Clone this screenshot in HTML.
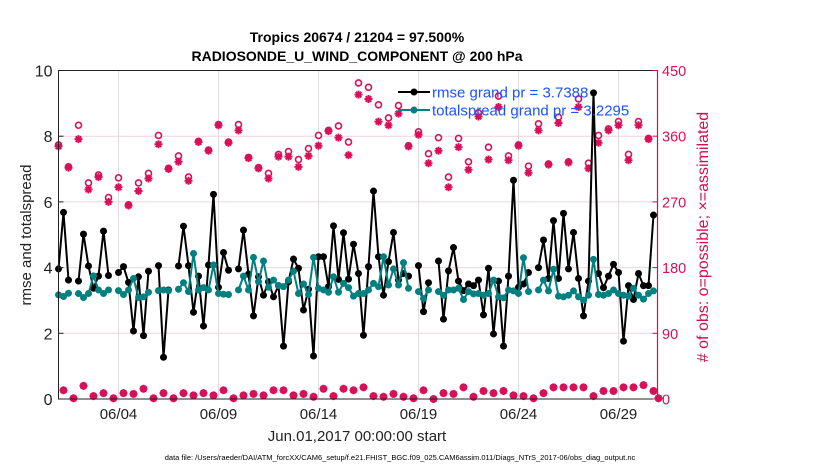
<!DOCTYPE html>
<html><head><meta charset="utf-8"><style>
html,body{margin:0;padding:0;background:#fff;}
svg{display:block;font-family:"Liberation Sans",Arial,sans-serif;}
</style></head><body>
<svg id="chart" width="830" height="470" viewBox="0 0 830 470" xmlns="http://www.w3.org/2000/svg">
<g id="grid"></g>
<g id="obs"></g>
<g id="lines"></g>
<rect x="58.5" y="70.5" width="599" height="328.5" fill="none" stroke="#222" stroke-width="1"/>
<line x1="657.5" y1="70.5" x2="657.5" y2="399" stroke="#d0104f" stroke-width="1.2"/>
<g id="axes"></g>
<text x="357" y="42" text-anchor="middle" font-size="14" font-weight="bold" fill="#000">Tropics 20674 / 21204 = 97.500%</text>
<text x="357" y="61" text-anchor="middle" font-size="14" font-weight="bold" fill="#000">RADIOSONDE_U_WIND_COMPONENT @ 200 hPa</text>
<text transform="translate(31,235) rotate(-90)" text-anchor="middle" font-size="15" fill="#222">rmse and totalspread</text>
<text transform="translate(708,237) rotate(-90)" text-anchor="middle" font-size="16" fill="#d0104f"># of obs: o=possible; ×=assimilated</text>
<text x="357" y="441" text-anchor="middle" font-size="15" fill="#222">Jun.01,2017 00:00:00 start</text>
<text x="400" y="460" text-anchor="middle" font-size="7.5" fill="#000">data file: /Users/raeder/DAI/ATM_forcXX/CAM6_setup/f.e21.FHIST_BGC.f09_025.CAM6assim.011/Diags_NTrS_2017-06/obs_diag_output.nc</text>
<g>
<line x1="398" y1="92" x2="430" y2="92" stroke="#000" stroke-width="2"/>
<circle cx="414" cy="92" r="3.5" fill="#000"/>
<text x="432" y="97.5" font-size="15" fill="#1a55f5">rmse grand pr = 3.7388</text>
<line x1="398" y1="110" x2="430" y2="110" stroke="#008080" stroke-width="2"/>
<circle cx="414" cy="110" r="3.5" fill="#008080"/>
<text x="432" y="115.5" font-size="15" fill="#1a55f5">totalspread grand pr = 3.2295</text>
</g>
</svg>
<script>
const rmse=[3.96,5.68,3.62,null,3.59,5.02,4.05,3.37,3.74,5.11,3.76,null,3.85,4.03,3.55,2.07,3.72,1.93,3.89,null,4.06,1.27,3.32,null,4.05,5.26,4.06,2.64,3.74,2.22,4.08,6.23,3.4,4.46,3.92,null,3.96,5.14,3.8,2.53,3.72,3.16,3.57,3.11,3.45,1.61,3.57,4.26,3.98,2.71,3.34,1.31,4.33,4.33,3.42,5.27,3.64,5.06,3.65,4.71,3.82,1.94,4.03,6.33,4.33,3.16,4.18,5.07,3.62,3.82,3.74,null,4.06,2.66,3.54,null,4.2,2.43,3.9,4.61,3.59,3.3,3.5,3.45,3.62,2.56,3.98,1.98,3.59,1.61,3.74,6.66,3.4,3.5,3.85,null,4.0,4.84,3.67,5.43,3.67,5.65,3.96,5.07,3.67,2.53,3.59,9.32,3.82,3.39,3.74,4.1,3.85,1.76,3.45,3.03,3.82,3.45,3.45,5.6,null];
const spread=[3.17,3.12,3.22,null,3.21,3.09,3.21,3.75,3.32,3.21,3.32,null,3.30,3.18,3.32,3.67,3.09,3.11,3.25,null,3.30,3.32,3.30,null,3.34,3.54,3.27,4.43,3.32,3.39,3.32,4.08,3.21,3.19,3.18,null,3.32,3.74,3.32,4.31,3.57,4.2,3.4,3.62,3.45,3.42,3.62,3.89,3.21,3.5,3.18,4.31,3.37,3.32,3.25,3.72,3.25,3.52,3.39,3.13,3.21,3.21,3.32,3.52,3.42,4.33,3.47,3.96,3.47,4.15,3.37,null,3.27,3.06,3.32,null,3.27,3.16,3.32,3.32,3.37,3.03,3.27,3.2,3.21,3.16,3.21,3.62,3.11,3.08,3.32,3.29,3.21,4.3,3.27,null,3.32,3.62,3.29,3.95,3.13,3.11,3.16,3.29,3.11,3.01,3.16,4.25,3.18,3.16,3.21,3.32,3.21,3.16,3.13,3.37,3.16,3.04,3.21,3.29,null];
const assimTop=[346,317,356,287,304,270,290,265,285,302,349,315,325,299,352,340,375,351,368,330,316,302,332,332,318,333,347,367,358,334,417,411,380,375,391,346,362,323,340,290,345,314,387,328,400,327,347,310,368,321,378,324,400,316,351,368,375,327,375,356,1];
const possTop=[348,318,375,296,307,276,303,266,296,309,361,316,333,304,353,341,376,352,376,331,317,309,335,339,328,343,361,368,374,352,433,427,403,385,402,347,366,336,358,304,357,325,392,345,415,333,348,319,377,322,386,325,411,323,361,370,380,335,380,357,1];
const countsOff=[12,1,18,4,8,1,8,7,14,1,8,1,8,5,8,5,12,1,5,7,5,12,12,5,7,3,14,4,14,12,16,4,3,7,3,1,12,0,8,7,16,3,11,8,11,5,4,1,8,16,16,16,16,4,11,11,16,16,19,11];
const xTickLabels=["06/04","06/09","06/14","06/19","06/24","06/29"];
const xTickDays=[3,8,13,18,23,28];
const yTicks=[0,2,4,6,8,10];
const rTicks=[0,90,180,270,360,450];

const NS="http://www.w3.org/2000/svg";
const X0=58.5,PXD=20,Y0=399,YH=328.5;
const xDay=d=>X0+PXD*d;
const xIdx=i=>xDay(i*0.25);
const yL=v=>Y0-v/10*YH;
const yR=c=>Y0-c/450*YH;
const RED="#d8105a";
function mk(tag,attrs,parent){const e=document.createElementNS(NS,tag);for(const k in attrs)e.setAttribute(k,attrs[k]);parent.appendChild(e);return e;}
const grid=document.getElementById('grid'),axes=document.getElementById('axes'),obs=document.getElementById('obs'),lines=document.getElementById('lines');

yTicks.forEach((v,k)=>{
  if(v>0&&v<10){const g=mk('line',{x1:X0,x2:657.5,y1:yL(v),y2:yL(v),stroke:"#f0d4dc","stroke-width":1},grid);
  
  }
  const t=mk('text',{x:X0-6,y:yL(v)+6,"text-anchor":"end","font-size":16,fill:"#222"},axes);t.textContent=v;
  
  
  mk('line',{x1:X0,x2:X0+5,y1:yL(v),y2:yL(v),stroke:"#222"},axes);
});
rTicks.forEach(c=>{
  const t=mk('text',{x:662,y:yR(c)+5.5,"font-size":14.5,fill:RED},axes);t.textContent=c;
  
  
  mk('line',{x1:652.5,x2:657.5,y1:yR(c),y2:yR(c),stroke:RED},axes);
});
xTickDays.forEach((d,k)=>{
  const g=mk('line',{x1:xDay(d),x2:xDay(d),y1:70.5,y2:Y0,stroke:"#dcdcdc","stroke-width":1},grid);
  
  
  const t=mk('text',{x:xDay(d),y:419,"text-anchor":"middle","font-size":15,fill:"#222"},axes);t.textContent=xTickLabels[k];
  
  
});

function star(cx,cy,p){const s=4;
  mk('path',{d:`M${cx-s},${cy}H${cx+s}M${cx},${cy-s}V${cy+s}M${cx-s*.7},${cy-s*.7}L${cx+s*.7},${cy+s*.7}M${cx-s*.7},${cy+s*.7}L${cx+s*.7},${cy-s*.7}`,stroke:RED,"stroke-width":2,fill:"none"},p);}
function drawObs(i,a,pv){
  const g=mk('g',{},obs);
  
  
  mk('circle',{cx:xIdx(i),cy:yR(pv),r:3,fill:"#fff",stroke:RED,"stroke-width":1.6},g);
  star(xIdx(i),yR(a),g);
}
assimTop.forEach((a,k)=>drawObs(k*2,a,possTop[k]));
countsOff.forEach((c,k)=>drawObs(k*2+1,c,c));

function series(vals,color,name){
  let d="";let pen=false;
  vals.forEach((v,i)=>{if(v==null){pen=false;return;}d+=(pen?"L":"M")+xIdx(i).toFixed(1)+","+yL(v).toFixed(1);pen=true;});
  const p=mk('path',{d:d,stroke:color,"stroke-width":2,fill:"none","stroke-linejoin":"round"},lines);
  
  
  vals.forEach((v,i)=>{if(v==null)return;
    const c=mk('circle',{cx:xIdx(i),cy:yL(v),r:3.5,fill:color},lines);
    
    
  });
}
series(rmse,"#000","rmse");
series(spread,"#008080","totalspread");
</script>
</body></html>
